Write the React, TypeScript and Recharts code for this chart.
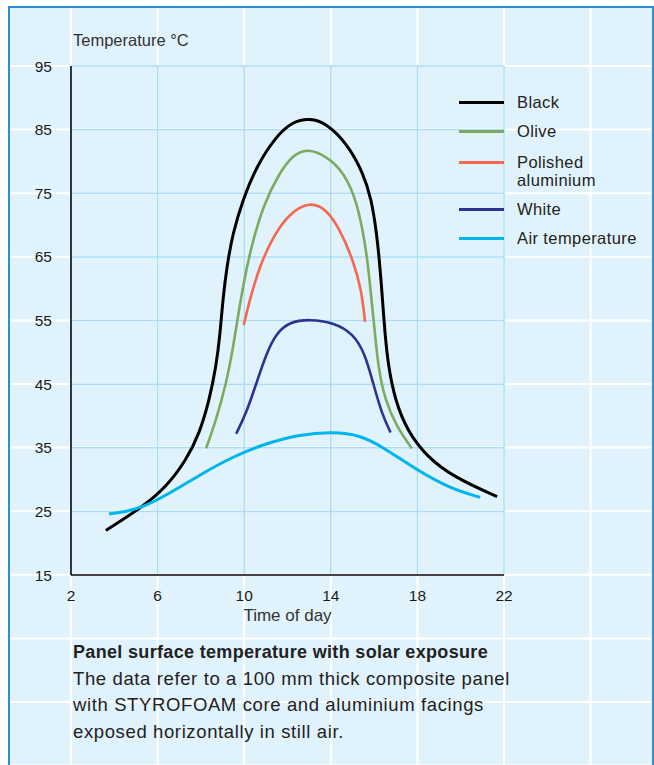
import React from 'react';
import { LineChart, Line, XAxis, YAxis, CartesianGrid, Legend } from 'recharts';

// hours of day
const xTicks = [2, 6, 10, 14, 18, 22];
// °C
const yTicks = [15, 25, 35, 45, 55, 65, 75, 85, 95];

const black = [
  { h: 3.61, t: 22.0 }, { h: 5.31, t: 25.7 }, { h: 6.39, t: 28.8 }, { h: 7.31, t: 33.0 },
  { h: 7.93, t: 37.2 }, { h: 8.39, t: 42.5 }, { h: 8.7, t: 47.7 }, { h: 8.89, t: 53.0 },
  { h: 9.01, t: 58.2 }, { h: 9.2, t: 63.5 }, { h: 9.47, t: 68.7 }, { h: 9.94, t: 74.0 },
  { h: 10.56, t: 79.2 }, { h: 11.48, t: 84.0 }, { h: 12.25, t: 86.3 }, { h: 13.03, t: 86.8 },
  { h: 13.8, t: 86.0 }, { h: 14.73, t: 82.9 }, { h: 15.5, t: 78.2 }, { h: 15.88, t: 74.0 },
  { h: 16.12, t: 68.7 }, { h: 16.27, t: 63.5 }, { h: 16.39, t: 58.2 }, { h: 16.5, t: 53.0 },
  { h: 16.66, t: 47.7 }, { h: 16.97, t: 42.5 }, { h: 17.51, t: 37.8 }, { h: 18.43, t: 33.6 },
  { h: 19.67, t: 30.4 }, { h: 21.68, t: 27.3 },
];

const olive = [
  { h: 8.24, t: 34.9 }, { h: 8.7, t: 39.3 }, { h: 9.17, t: 45.1 }, { h: 9.47, t: 50.4 },
  { h: 9.71, t: 55.6 }, { h: 9.97, t: 60.9 }, { h: 10.32, t: 66.5 }, { h: 10.86, t: 73.0 },
  { h: 11.64, t: 78.3 }, { h: 12.25, t: 81.0 }, { h: 12.84, t: 81.9 }, { h: 13.49, t: 81.4 },
  { h: 14.42, t: 79.2 }, { h: 15.11, t: 74.8 }, { h: 15.5, t: 68.9 }, { h: 15.73, t: 63.5 },
  { h: 15.88, t: 58.2 }, { h: 16.04, t: 53.0 }, { h: 16.19, t: 47.7 }, { h: 16.5, t: 42.5 },
  { h: 17.04, t: 38.3 }, { h: 17.74, t: 34.9 },
];

const polished = [
  { h: 9.98, t: 54.3 }, { h: 10.25, t: 58.2 }, { h: 10.71, t: 63.5 }, { h: 11.33, t: 68.2 },
  { h: 12.1, t: 71.9 }, { h: 13.03, t: 73.7 }, { h: 13.8, t: 72.5 }, { h: 14.42, t: 69.3 },
  { h: 15.03, t: 64.5 }, { h: 15.42, t: 59.8 }, { h: 15.58, t: 54.8 },
];

const white = [
  { h: 9.63, t: 37.2 }, { h: 10.09, t: 40.4 }, { h: 10.56, t: 45.1 }, { h: 11.02, t: 49.8 },
  { h: 11.48, t: 53.0 }, { h: 12.1, t: 54.8 }, { h: 13.03, t: 55.2 }, { h: 14.11, t: 54.7 },
  { h: 15.03, t: 53.0 }, { h: 15.58, t: 49.8 }, { h: 15.96, t: 45.1 }, { h: 16.35, t: 40.4 },
  { h: 16.76, t: 37.4 },
];

const air = [
  { h: 3.76, t: 24.6 }, { h: 4.53, t: 24.9 }, { h: 5.46, t: 25.9 }, { h: 6.39, t: 27.5 },
  { h: 7.93, t: 30.7 }, { h: 9.47, t: 33.6 }, { h: 11.02, t: 35.7 }, { h: 12.56, t: 37.1 },
  { h: 14.11, t: 37.5 }, { h: 15.34, t: 37.0 }, { h: 16.42, t: 35.1 }, { h: 17.97, t: 31.5 },
  { h: 19.51, t: 28.6 }, { h: 20.9, t: 27.2 },
];

const series = [
  { name: 'Black', data: black, color: '#000000', width: 3 },
  { name: 'Olive', data: olive, color: '#7cab5f', width: 2.6 },
  { name: 'Polished aluminium', data: polished, color: '#f2694f', width: 2.6 },
  { name: 'White', data: white, color: '#2e3192', width: 2.6 },
  { name: 'Air temperature', data: air, color: '#00b5ea', width: 3 },
];

const FONT = '"Liberation Sans", Arial, sans-serif';
const W = 654;
const H = 765;
const PLOT_LEFT = 71;
const PLOT_TOP = 66;
const X_STEP = 86.6;
const Y_STEP = 63.6;

// white background grid of the panel
const BackGrid = () => {
  const xs: number[] = [];
  for (let x = PLOT_LEFT; x < W - 5; x += X_STEP) xs.push(x);
  const ys: number[] = [];
  for (let y = PLOT_TOP; y < H + 2; y += Y_STEP) ys.push(y);
  return (
    <svg width={W} height={H} style={{ position: 'absolute', left: 0, top: 0 }}>
      {xs.map((x) => (
        <line key={'v' + x} x1={x} x2={x} y1={8} y2={H} stroke="#ffffff" strokeWidth={2} />
      ))}
      {ys.map((y) => (
        <line key={'h' + y} x1={10} x2={651} y1={y} y2={y} stroke="#ffffff" strokeWidth={2} />
      ))}
    </svg>
  );
};

const order = series.map((s) => s.name);

const renderLegend = (props: any) => {
  const items = [...props.payload].sort((a: any, b: any) => order.indexOf(a.value) - order.indexOf(b.value));
  return (
    <div style={{ fontFamily: FONT, fontSize: 16.5, letterSpacing: 0.4, color: '#222' }}>
      {items.map((entry: any, i: number) => (
        <div key={entry.value} style={{ display: 'flex', alignItems: 'flex-start', marginBottom: i === 1 ? 13 : 11 }}>
          <div
            style={{
              width: 45,
              height: 3,
              background: entry.color,
              marginTop: 8,
              marginRight: 13,
              flex: 'none',
            }}
          />
          <div style={{ lineHeight: '18px', width: 125 }}>{entry.value}</div>
        </div>
      ))}
    </div>
  );
};

export default function App() {
  return (
    <div style={{ position: 'absolute', left: 0, top: 0, width: W, height: H, background: '#fff', fontFamily: FONT }}>
      <div
        style={{
          position: 'absolute',
          left: 8,
          top: 6,
          width: 642,
          height: H - 6,
          background: '#e0f2fc',
          borderLeft: '2px solid #2a90d6',
          borderTop: '2px solid #2a90d6',
          borderRight: '2px solid #2a90d6',
        }}
      />
      <BackGrid />
      <div style={{ position: 'absolute', left: 73, top: 31, fontSize: 16.5, lineHeight: '18px', color: '#333' }}>
        Temperature °C
      </div>
      <LineChart
        width={W}
        height={H}
        margin={{ top: PLOT_TOP, right: 150, bottom: 144, left: 11 }}
        style={{ position: 'absolute', left: 0, top: 0 }}
      >
        <CartesianGrid stroke="#a9dcf5" strokeWidth={1.5} />
        <XAxis
          dataKey="h"
          type="number"
          domain={[2, 22]}
          ticks={xTicks}
          allowDuplicatedCategory={false}
          height={46}
          tickLine={false}
          tickSize={6}
          tickMargin={9}
          axisLine={{ stroke: '#444', strokeWidth: 2 }}
          tick={{ fill: '#1a1a1a', fontSize: 15.5, fontFamily: FONT }}
          label={{ value: 'Time of day', position: 'insideBottom', offset: 0, fill: '#333', fontSize: 17, fontFamily: FONT }}
        />
        <YAxis
          type="number"
          domain={[15, 95]}
          ticks={yTicks}
          width={60}
          tickLine={false}
          tickSize={6}
          tickMargin={13}
          axisLine={{ stroke: '#000', strokeWidth: 1.5 }}
          tick={{ fill: '#1a1a1a', fontSize: 15.5, fontFamily: FONT }}
        />
        <Legend
          layout="vertical"
          align="center"
          verticalAlign="middle"
          content={renderLegend}
          wrapperStyle={{ left: 459, top: 93, width: 190 }}
        />
        {series.map((s) => (
          <Line
            key={s.name}
            name={s.name}
            data={s.data}
            dataKey="t"
            type="basis"
            stroke={s.color}
            strokeWidth={s.width}
            dot={false}
            activeDot={false}
            isAnimationActive={false}
          />
        ))}
      </LineChart>
      <div
        style={{
          position: 'absolute',
          left: 73,
          top: 639,
          fontSize: 18.5,
          letterSpacing: 0.62,
          lineHeight: '26.7px',
          color: '#222',
        }}
      >
        <div style={{ fontWeight: 'bold', fontSize: 18, letterSpacing: 0.33 }}>
          Panel surface temperature with solar exposure
        </div>
        <div>
          The data refer to a 100 mm thick composite panel
          <br />
          with STYROFOAM core and aluminium facings
          <br />
          exposed horizontally in still air.
        </div>
      </div>
    </div>
  );
}
